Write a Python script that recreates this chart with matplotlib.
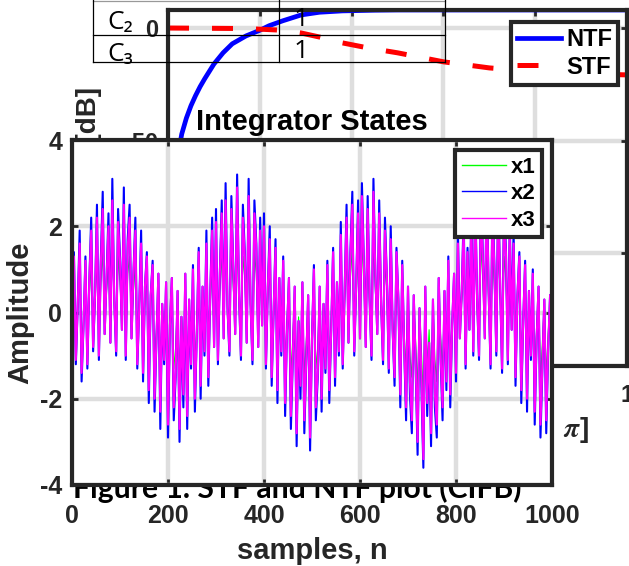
import numpy as np
import matplotlib
matplotlib.use("Agg")
import matplotlib.pyplot as plt

# ---- background plot: STF / NTF magnitude ----
ntf_freq = [0.0, 0.01, 0.02, 0.03, 0.04, 0.05, 0.06, 0.07, 0.08, 0.10, 0.12, 0.14,
            0.17, 0.20, 0.22, 0.25, 0.29, 0.33, 0.38, 0.45, 0.50, 0.60, 0.80, 1.0]
ntf_db = [-160, -77, -58, -47, -40, -34.5, -30, -26, -22.5, -16, -11, -7,
          -3.5, -1.0, 1.0, 3.2, 5.8, 7.0, 7.6, 7.9, 8.0, 8.0, 8.0, 8.0]
stf_freq = [0.0, 0.15, 0.20, 0.24, 0.29, 0.33, 0.38, 0.44, 0.50, 0.60, 0.70, 0.80, 0.90, 1.0]
stf_db = [0.0, -0.2, -0.5, -0.9, -2.2, -4.0, -6.6, -9.0, -11.0, -15.0, -17.7, -19.3, -20.3, -20.8]
bg_xticks = [0, 0.2, 0.4, 0.6, 0.8, 1.0]
bg_xticklabels = ["0", "0.2", "0.4", "0.6", "0.8", "1"]
bg_yticks = [-150, -100, -50, 0]

table_names = ["C\u2082", "C\u2083"]
table_vals = ["1", "1"]
caption = "Figure 1. STF and NTF plot (CIFB)"

# ---- foreground plot: integrator states, every 4th sample ----
x1 = [0.0, 0.8, -0.7, 0.1, 1.0, -0.8, -0.2, 0.7, -0.7, 0.4,
      1.1, -0.5, 0.2, 1.3, -0.6, 0.7, 1.4, -0.3, 0.5, 1.2,
      -0.4, 1.6, 0.2, -0.5, 1.3, 0.7, -0.2, 1.5, -0.6, 0.9,
      1.3, -0.4, 0.5, 1.1, -0.7, 0.1, 1.0, -0.8, 0.4, 0.8,
      -1.1, 0.2, 0.7, -1.2, -0.4, 0.5, -1.4, 0.1, -0.7, 0.4,
      -1.6, -0.2, 0.5, -1.3, -0.8, 0.3, -1.6, -0.1, -1.1, 0.5,
      -1.4, 0.2, -0.7, 0.6, -1.2, -0.3, 0.8, -1.0, 0.4, -0.5,
      1.0, -0.9, 0.2, 1.1, -0.5, 1.3, -0.7, 0.5, 1.4, -0.4,
      1.6, 0.1, -0.5, 1.4, 0.6, -0.3, 1.7, 0.2, -0.6, 1.3,
      0.8, -0.4, 1.6, 0.1, -0.7, 1.4, 0.9, -0.5, 1.1, -0.2,
      1.2, -0.7, 0.4, 1.0, -0.9, 0.0, 0.9, -1.1, 0.5, -0.5,
      0.7, -1.3, -0.2, 0.5, -1.4, -0.6, 0.4, -1.7, -0.1, -1.0,
      0.4, -1.5, -0.7, 0.2, -1.7, -0.4, 0.6, -1.3, -0.8, 0.4,
      -1.2, 0.1, -0.8, 0.7, -1.1, -0.2, 0.8, -0.9, 0.4, -0.5,
      1.1, -0.7, 0.3, 1.3, -0.4, 0.8, 1.5, -0.5, 0.4, 1.4,
      -0.4, 1.6, 0.7, -0.5, 1.4, 0.2, -0.6, 1.7, 0.5, -0.3,
      1.4, 0.1, -0.7, 1.1, 0.5, -0.8, 1.0, -0.2, -0.9, 0.8,
      0.2, -1.1, 0.7, -0.5, -1.3, 0.4, -1.0, -1.5, 0.2, -0.7,
      -1.8, 0.1, -0.9, -2.0, 0.4, -1.3, -0.4, -1.7, 0.2, -1.1,
      -1.6, 0.5, -0.6, -1.3, 0.3, -1.0, 0.7, -1.1, -0.2, 0.5,
      -0.8, 1.0, -0.4, 0.3, 1.2, -0.7, 0.8, -0.2, 1.3, -0.5,
      1.5, 0.2, -0.6, 1.6, 0.7, -0.4, 1.7, 0.3, -0.7, 1.4,
      0.6, -0.5, 1.6, 0.4, -0.8, 1.3, 0.8, -0.7, 1.1, -0.2,
      1.0, -0.9, 0.2, 0.8, -1.1, -0.1, 0.7, -1.2, 0.3, -0.6,
      0.5, -1.4, -0.4, 0.4, -1.6, -0.7, 0.2, -1.5, -0.5, 0.2]
x2 = [0.0, 1.4, -1.2, 0.2, 1.9, -1.6, -0.3, 1.3, -1.3, 0.7,
      2.2, -0.9, 0.4, 2.5, -1.1, 1.2, 2.8, -0.5, 0.8, 2.3,
      -0.7, 3.1, 0.3, -1.0, 2.4, 1.3, -0.4, 2.9, -1.1, 1.7,
      2.5, -0.6, 0.9, 2.2, -1.3, 0.1, 1.9, -1.6, 0.6, 1.4,
      -2.1, 0.4, 1.2, -2.3, -0.6, 0.9, -2.7, 0.2, -1.2, 0.7,
      -2.9, -0.3, 0.8, -2.5, -1.5, 0.5, -3.0, -0.1, -2.2, 0.9,
      -2.7, 0.3, -1.3, 1.1, -2.3, -0.5, 1.5, -2.0, 0.6, -1.0,
      1.9, -1.7, 0.4, 2.2, -0.8, 2.4, -1.2, 0.9, 2.6, -0.6,
      3.0, 0.1, -1.0, 2.7, 1.1, -0.5, 3.2, 0.4, -1.1, 2.5,
      1.4, -0.7, 3.1, 0.2, -1.2, 2.6, 1.6, -0.8, 2.2, -0.3,
      2.3, -1.3, 0.6, 2.0, -1.7, 0.0, 1.7, -2.1, 0.8, -1.0,
      1.3, -2.4, -0.4, 0.8, -2.7, -1.1, 0.6, -3.1, -0.2, -2.0,
      0.7, -2.8, -1.2, 0.4, -3.2, -0.6, 1.1, -2.5, -1.5, 0.6,
      -2.3, 0.2, -1.4, 1.2, -2.1, -0.4, 1.5, -1.7, 0.7, -1.0,
      2.1, -1.3, 0.5, 2.5, -0.7, 1.4, 2.8, -1.0, 0.6, 2.6,
      -0.6, 3.0, 1.2, -0.8, 2.7, 0.3, -1.1, 3.1, 0.9, -0.5,
      2.6, 0.2, -1.2, 2.2, 0.8, -1.4, 2.0, -0.4, -1.7, 1.5,
      0.3, -2.2, 1.2, -0.8, -2.5, 0.6, -1.9, -2.8, 0.4, -1.3,
      -3.3, 0.1, -1.7, -3.6, 0.6, -2.4, -0.7, -3.1, 0.3, -2.2,
      -2.9, 0.8, -1.1, -2.5, 0.5, -1.8, 1.3, -2.2, -0.3, 0.9,
      -1.6, 1.9, -0.6, 0.5, 2.3, -1.3, 1.5, -0.4, 2.5, -1.0,
      2.8, 0.3, -1.1, 3.0, 1.3, -0.6, 3.2, 0.5, -1.3, 2.7,
      1.1, -1.0, 2.9, 0.6, -1.4, 2.5, 1.5, -1.2, 2.1, -0.4,
      1.9, -1.7, 0.4, 1.4, -2.1, -0.2, 1.2, -2.3, 0.5, -1.1,
      1.0, -2.6, -0.6, 0.6, -2.9, -1.3, 0.3, -2.8, -0.9, 0.4]
x3 = [0.0, 1.3, -1.1, 0.2, 1.6, -1.4, -0.3, 1.2, -1.2, 0.7,
      1.9, -0.8, 0.4, 2.2, -1.0, 1.1, 2.4, -0.5, 0.8, 2.0,
      -0.7, 2.6, 0.3, -0.9, 2.1, 1.2, -0.4, 2.5, -1.0, 1.5,
      2.2, -0.6, 0.9, 1.9, -1.2, 0.1, 1.6, -1.4, 0.6, 1.3,
      -1.8, 0.4, 1.1, -2.0, -0.6, 0.9, -2.3, 0.2, -1.1, 0.7,
      -2.6, -0.3, 0.8, -2.2, -1.4, 0.5, -2.7, -0.1, -1.9, 0.9,
      -2.4, 0.3, -1.2, 1.0, -2.0, -0.5, 1.4, -1.7, 0.6, -0.9,
      1.6, -1.5, 0.4, 1.9, -0.8, 2.1, -1.1, 0.9, 2.3, -0.6,
      2.6, 0.1, -0.9, 2.4, 1.0, -0.5, 2.9, 0.4, -1.0, 2.2,
      1.3, -0.7, 2.7, 0.2, -1.1, 2.3, 1.5, -0.8, 1.9, -0.3,
      2.0, -1.2, 0.6, 1.7, -1.5, 0.0, 1.5, -1.8, 0.8, -0.9,
      1.2, -2.1, -0.4, 0.8, -2.4, -1.0, 0.6, -2.8, -0.2, -1.7,
      0.7, -2.5, -1.1, 0.4, -2.9, -0.6, 1.0, -2.2, -1.4, 0.6,
      -2.0, 0.2, -1.3, 1.1, -1.8, -0.4, 1.4, -1.5, 0.7, -0.9,
      1.8, -1.2, 0.5, 2.2, -0.7, 1.3, 2.5, -0.9, 0.6, 2.3,
      -0.6, 2.7, 1.1, -0.8, 2.4, 0.3, -1.0, 2.8, 0.9, -0.5,
      2.3, 0.2, -1.1, 1.9, 0.8, -1.3, 1.7, -0.4, -1.5, 1.4,
      0.3, -1.9, 1.1, -0.8, -2.2, 0.6, -1.6, -2.5, 0.4, -1.2,
      -3.0, 0.1, -1.5, -3.4, 0.6, -2.1, -0.7, -2.8, 0.3, -1.9,
      -2.6, 0.8, -1.0, -2.2, 0.5, -1.6, 1.2, -1.9, -0.3, 0.9,
      -1.4, 1.6, -0.6, 0.5, 2.0, -1.2, 1.4, -0.4, 2.2, -0.9,
      2.5, 0.3, -1.0, 2.7, 1.2, -0.6, 2.9, 0.5, -1.2, 2.4,
      1.0, -0.9, 2.6, 0.6, -1.3, 2.2, 1.4, -1.1, 1.8, -0.4,
      1.6, -1.5, 0.4, 1.3, -1.8, -0.2, 1.1, -2.0, 0.5, -1.0,
      0.9, -2.3, -0.6, 0.6, -2.6, -1.2, 0.3, -2.5, -0.8, 0.4]
state_step = 4
fg_xticks = [0, 200, 400, 600, 800, 1000]
fg_yticks = [-4, -2, 0, 2, 4]

plt.rcParams["font.family"] = ["Liberation Sans", "DejaVu Sans"]
plt.rcParams["font.weight"] = "bold"
plt.rcParams["axes.labelweight"] = "bold"
plt.rcParams["axes.titleweight"] = "bold"
plt.rcParams["axes.unicode_minus"] = False
plt.rcParams["mathtext.fontset"] = "stix"

W, H = 629, 566
DARK = "#262626"
GRID = "#dedede"


def box(l, t, r, b):
    # pixel box -> figure fraction rect
    return [l / W, 1 - b / H, (r - l) / W, (b - t) / H]


def style_axes(ax, size, pad):
    for s in ax.spines.values():
        s.set_linewidth(3)
        s.set_color(DARK)
    ax.tick_params(direction="in", length=4, width=2, color=DARK, top=True, right=True,
                   labelsize=size, labelcolor=DARK, pad=pad)
    ax.grid(True, color=GRID, lw=3.2)
    ax.set_axisbelow(True)


fig = plt.figure(figsize=(W / 100, H / 100), dpi=100)

# background axes
axb = fig.add_axes(box(168, 10, 627, 366))
style_axes(axb, 17, 7)
axb.tick_params(axis="x", pad=13)
axb.plot(ntf_freq, ntf_db, color="blue", lw=3.4, label="NTF")
axb.plot(stf_freq, stf_db, color="red", lw=3.6, ls=(0, (4.2, 4.6)), label="STF")
axb.set_xlim(0, 1)
axb.set_ylim(-150, 8)
axb.set_xticks(bg_xticks)
axb.set_xticklabels(bg_xticklabels)
axb.set_yticks(bg_yticks)
xl = axb.set_xlabel(r"Normalized Frequency [$\times\quad\pi$]", fontsize=20, color=DARK)
xl.set_horizontalalignment("right")
xl.set_verticalalignment("center")
axb.xaxis.set_label_coords((589 - 168) / 459, (366 - 430) / 356)
yl = axb.set_ylabel("Magnitude [dB]", fontsize=20, color=DARK)
yl.set_horizontalalignment("right")
axb.yaxis.set_label_coords((102 - 168) / 459, (366 - 87) / 356)
lg = axb.legend(loc="upper right", bbox_to_anchor=(618 / W, 1 - 22 / H),
                bbox_transform=fig.transFigure, fontsize=17, frameon=True, fancybox=False,
                framealpha=1, edgecolor=DARK, handlelength=1.9, borderpad=0.25,
                labelspacing=0.2, handletextpad=0.2, borderaxespad=0)
lg.get_frame().set_linewidth(3)

# table + caption overlay
ov = fig.add_axes([0, 0, 1, 1])
ov.set_xlim(0, W)
ov.set_ylim(H, 0)
ov.axis("off")
ov.plot([93, 445], [0.5, 0.5], color="#999999", lw=0.9)
for yy in [35, 62]:
    ov.plot([93, 445], [yy, yy], color="black", lw=0.9)
for xx in [93, 279, 445]:
    ov.plot([xx, xx], [0, 62], color="black", lw=0.9)
for i, (name, val) in enumerate(zip(table_names, table_vals)):
    yc = [22, 54][i]
    ov.text(107, yc, name, fontsize=19, fontweight="normal", va="center", ha="left",
            family=["Open Sans", "DejaVu Sans"], color="black")
    ov.text(301, yc - 2, val, fontsize=19, fontweight="normal", va="center", ha="center",
            family=["Open Sans", "DejaVu Sans"], color="black")
ov.text(73, 498, caption, fontsize=21.7, fontweight="bold", va="baseline", ha="left",
        family=["Lato", "DejaVu Sans"], color="black")

# foreground axes: integrator states
axf = fig.add_axes(box(72, 140, 552, 485))
axf.set_facecolor("white")
style_axes(axf, 18, 7)
axf.tick_params(axis="x", pad=14)
n = np.arange(len(x3)) * state_step
axf.plot(n, x1, color=(0, 1, 0), lw=0.8, label="x1")
axf.plot(n, x2, color=(0, 0, 1), lw=1.5, label="x2")
axf.plot(n, x3, color=(1, 0, 1), lw=1.5, label="x3")
axf.set_xlim(0, 1000)
axf.set_ylim(-4, 4)
axf.set_xticks(fg_xticks)
axf.set_yticks(fg_yticks)
axf.set_title("Integrator States", fontsize=21, pad=7)
axf.set_xlabel("samples, n", fontsize=21, labelpad=6, color=DARK)
axf.set_ylabel("Amplitude", fontsize=21, labelpad=4, color=DARK)
lg2 = axf.legend(loc="upper right", bbox_to_anchor=(542 / W, 1 - 150 / H),
                 bbox_transform=fig.transFigure, fontsize=16, frameon=True, fancybox=False,
                 framealpha=1, edgecolor=DARK, handlelength=2.0, borderpad=0.3,
                 labelspacing=0.25, handletextpad=0.2, borderaxespad=0)
lg2.get_frame().set_linewidth(3)
for line in lg2.get_lines():
    line.set_linewidth(1.0)

fig.savefig("out.png", dpi=100)
